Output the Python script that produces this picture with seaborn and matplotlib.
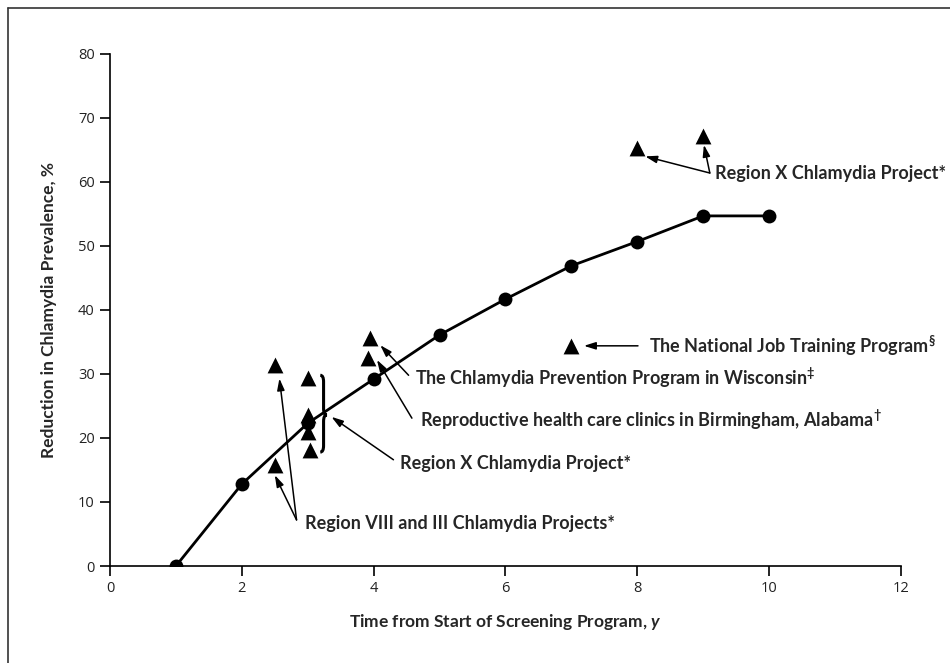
import numpy as np
import pandas as pd
import matplotlib.pyplot as plt
from matplotlib.path import Path
from matplotlib.patches import PathPatch
from matplotlib.lines import Line2D
import seaborn as sns

# Model curve (circles)
years = [1, 2, 3, 4, 5, 6, 7, 8, 9, 10]
reduction = [0, 12.8, 22.3, 29.2, 36.1, 41.7, 46.9, 50.7, 54.7, 54.7]

# Observed programs (triangles)
prog_x = [2.5, 2.5, 3.0, 3.0, 3.0, 3.03, 3.95, 3.91, 7.0, 8.0, 9.0]
prog_y = [31.4, 15.8, 29.3, 23.6, 21.0, 18.1, 35.6, 32.5, 34.4, 65.3, 67.2]

model = pd.DataFrame({'year': years, 'reduction': reduction})
progs = pd.DataFrame({'year': prog_x, 'reduction': prog_y})

sns.set_style('ticks')
plt.rcParams['font.family'] = ['Open Sans', 'DejaVu Sans']
plt.rcParams['mathtext.fontset'] = 'custom'
plt.rcParams['mathtext.rm'] = 'Lato:bold'
plt.rcParams['mathtext.bf'] = 'Lato:bold'
plt.rcParams['mathtext.it'] = 'Lato:italic:bold'

fig = plt.figure(figsize=(9.5, 6.63), dpi=100)
ax = fig.add_axes([0.1158, 0.1463, 0.8326, 0.7723])

sns.lineplot(data=model, x='year', y='reduction', ax=ax, color='black', lw=2,
             marker='o', markersize=10, markeredgewidth=0, zorder=3)
sns.scatterplot(data=progs, x='year', y='reduction', ax=ax, color='black',
                marker='^', s=130, linewidth=0, zorder=4)

ax.set_xlim(0, 12)
ax.set_ylim(0, 80)
ax.set_xticks(range(0, 13, 2))
ax.set_yticks(range(0, 81, 10))
ax.tick_params(direction='out', length=7, width=1.2, labelsize=10.5, pad=4,
               color='black', labelcolor='#222222')
for s in ['left', 'bottom']:
    ax.spines[s].set_linewidth(1.2)
    ax.spines[s].set_color('black')
sns.despine(ax=ax)

lab_font = dict(family=['Lato', 'DejaVu Sans'], fontsize=12.5, fontweight='bold')
ax.set_xlabel('Time from Start of Screening Program, $\\mathit{y}$', labelpad=11, **lab_font)
ax.set_ylabel('Reduction in Chlamydia Prevalence, %', labelpad=15, **lab_font)

ann_font = dict(family=['Lato', 'DejaVu Sans'], fontsize=13, fontweight='bold', va='center')
arrow = dict(arrowstyle='-|>,head_length=0.7,head_width=0.22', color='black', lw=1.1,
             shrinkA=0, shrinkB=0)

def arr(tail, head):
    ax.annotate('', xy=head, xytext=tail, arrowprops=arrow)

# top right Region X
ax.text(9.18, 61.4, 'Region X Chlamydia Project*', **ann_font)
arr((9.10, 61.4), (8.12, 64.0))
arr((9.10, 61.4), (9.01, 65.8))

# National Job Training
ax.text(8.18, 34.4, 'The National Job Training Program$^{\\S}$', **ann_font)
arr((8.01, 34.4), (7.19, 34.4))

# Wisconsin
ax.text(4.63, 29.4, 'The Chlamydia Prevention Program in Wisconsin$^{\\ddag}$', **ann_font)
arr((4.53, 29.8), (4.10, 34.5))

# Birmingham
ax.text(4.70, 22.8, 'Reproductive health care clinics in Birmingham, Alabama$^{\\dag}$', **ann_font)
arr((4.58, 23.1), (4.05, 32.2))

# Region X middle
ax.text(4.40, 16.0, 'Region X Chlamydia Project*', **ann_font)
arr((4.30, 16.6), (3.36, 23.3))

# Region VIII and III
ax.text(2.96, 6.7, 'Region VIII and III Chlamydia Projects*', **ann_font)
arr((2.83, 7.2), (2.50, 14.2))
arr((2.83, 7.2), (2.57, 29.3))

# curly brace next to the x=3 group
x0, x1, x2 = 3.19, 3.24, 3.29
yt, ym, yb = 29.8, 23.6, 17.8
verts = [(x0, yt), (x1, yt), (x1, yt - 1.0),
         (x1, ym + 1.0), (x1, ym), (x2, ym),
         (x1, ym), (x1, ym - 1.0),
         (x1, yb + 1.0), (x1, yb), (x0, yb)]
codes = [Path.MOVETO, Path.CURVE3, Path.CURVE3,
         Path.LINETO, Path.CURVE3, Path.CURVE3,
         Path.CURVE3, Path.CURVE3,
         Path.LINETO, Path.CURVE3, Path.CURVE3]
ax.add_patch(PathPatch(Path(verts, codes), fill=False, lw=2.2, color='black', zorder=4))

# figure border (top and left visible)
fig.add_artist(Line2D([8 / 950, 8 / 950], [0, 1 - 8 / 663], color='#333333', lw=1.2))
fig.add_artist(Line2D([8 / 950, 1], [1 - 8 / 663, 1 - 8 / 663], color='#333333', lw=1.2))

fig.savefig('out.png', dpi=100, facecolor='white')
